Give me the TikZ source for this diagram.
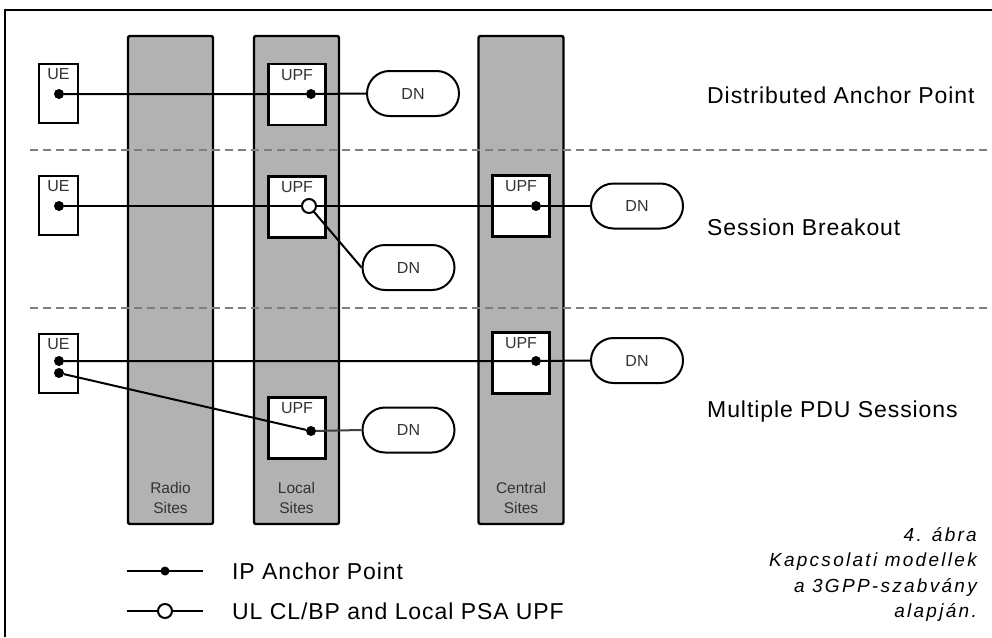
\documentclass[tikz,border=0pt]{standalone}
\usepackage{fontspec}
\setmainfont{Liberation Sans}
\newfontfamily\capfont[LetterSpace=12]{Liberation Sans}
\newfontfamily\lblfont[LetterSpace=4]{Liberation Sans}
\usetikzlibrary{shapes.misc}
\definecolor{sitegray}{HTML}{B2B2B2}
\definecolor{smalltext}{HTML}{333333}
\definecolor{dashgray}{HTML}{7E7E7E}
\tikzset{
  site/.style={draw=black, line width=2.4pt, fill=sitegray, rounded corners=2pt,
    minimum width=85pt, minimum height=488pt, inner sep=0pt},
  sitelabel/.style={text=smalltext, font=\fontsize{15.5}{20}\selectfont, align=center, inner sep=0pt},
  uebox/.style={draw=black, line width=2pt, fill=white, minimum width=39pt, minimum height=59pt, inner sep=0pt},
  upfbox/.style={draw=black, line width=2.2pt, fill=white, minimum width=57pt, minimum height=61pt, inner sep=0pt},
  boxtag/.style={text=smalltext, font=\fontsize{16}{16}\selectfont, inner sep=0pt, anchor=north},
  dnnode/.style={draw=black, line width=2pt, fill=white, rounded rectangle,
    minimum width=92pt, minimum height=45pt, inner sep=0pt, text=smalltext, font=\fontsize{16}{16}\selectfont},
  anchordot/.style={circle, fill=black, minimum size=10pt, inner sep=0pt},
  opendot/.style={circle, draw=black, line width=2pt, fill=white, minimum size=14pt, inner sep=0pt},
  link/.style={line width=2pt, black},
  divider/.style={line width=2pt, dashgray, dash pattern=on 8pt off 5pt},
  rowlabel/.style={anchor=west, inner sep=0pt, font=\lblfont\fontsize{23}{23}\selectfont},
  legendtext/.style={anchor=west, inner sep=0pt, font=\lblfont\fontsize{23}{23}\selectfont},
  capline/.style={anchor=base east, inner sep=0pt, font=\capfont\itshape\fontsize{19}{19}\selectfont},
}
\begin{document}
\begin{tikzpicture}[x=1pt, y=-1pt]
\useasboundingbox (0,0) rectangle (992,637);
\fill[white] (0,0) rectangle (992,637);

% frame
\draw[line width=1.6pt] (5,637) -- (5,10) -- (992,10);

% site columns
\node[site] (radio) at (170.5,280) {};
\node[site] (local) at (296.5,280) {};
\node[site] (central) at (521,280) {};
\node[sitelabel] (radiolbl) at (170.5,498) {Radio\\Sites};
\node[sitelabel] (locallbl) at (296.5,498) {Local\\Sites};
\node[sitelabel] (centrallbl) at (521,498) {Central\\Sites};

% row dividers
\coordinate (d1a) at (30,150);  \coordinate (d1b) at (992,150);
\coordinate (d2a) at (30,308);  \coordinate (d2b) at (992,308);
\draw[divider] (d1a) -- (d1b);
\draw[divider] (d2a) -- (d2b);

% ---- row 1: distributed anchor point
\node[uebox] (ue1) at (58.5,93.5) {};
\node[boxtag] at ([yshift=-5pt]ue1.north) {UE};
\node[upfbox] (upf1) at (297,94.5) {};
\node[boxtag] at ([yshift=-6pt]upf1.north) {UPF};
\node[dnnode] (dn1) at (413,93.5) {DN};
\node[anchordot] (ue1d) at (59,94) {};
\node[anchordot] (upf1d) at (311,94) {};
\draw[link] (ue1d) -- (upf1d) -- (dn1.west);

% ---- row 2: session breakout
\node[uebox] (ue2) at (58.5,205.5) {};
\node[boxtag] at ([yshift=-5pt]ue2.north) {UE};
\node[upfbox] (upf2) at (297,207) {};
\node[boxtag] at ([yshift=-6pt]upf2.north) {UPF};
\node[upfbox] (upf3) at (521,206) {};
\node[boxtag] at ([yshift=-6pt]upf3.north) {UPF};
\node[dnnode] (dn2) at (637,206) {DN};
\node[dnnode] (dn3) at (408.5,267.5) {DN};
\node[anchordot] (ue2d) at (59,206) {};
\node[anchordot] (upf3d) at (536,206) {};
\coordinate (brk) at (309,206);
\draw[link] (ue2d) -- (brk) -- (upf3d) -- (dn2.west);
\draw[link] (brk) -- (dn3.west);
\node[opendot] (brkc) at (brk) {};

% ---- row 3: multiple PDU sessions
\node[uebox] (ue3) at (58.5,363.5) {};
\node[boxtag] at ([yshift=-5pt]ue3.north) {UE};
\node[upfbox] (upf4) at (521,363) {};
\node[boxtag] at ([yshift=-6pt]upf4.north) {UPF};
\node[upfbox] (upf5) at (297,428) {};
\node[boxtag] at ([yshift=-6pt]upf5.north) {UPF};
\node[dnnode] (dn4) at (637,360.5) {DN};
\node[dnnode] (dn5) at (408.5,430) {DN};
\node[anchordot] (ue3a) at (59,361) {};
\node[anchordot] (ue3b) at (59,373) {};
\node[anchordot] (upf4d) at (536,361) {};
\node[anchordot] (upf5d) at (311,431) {};
\draw[link] (ue3a) -- (upf4d) -- (dn4.west);
\draw[link] (ue3b) -- (upf5d);
\draw[link, black!75] (upf5d) -- (dn5.west);

% row labels
\node[rowlabel] (lab1) at (707,95) {Distributed Anchor Point};
\node[rowlabel] (lab2) at (707,227) {Session Breakout};
\node[rowlabel] (lab3) at (707,412) {Multiple PDU Sessions};

% legend
\coordinate (l1a) at (127,571); \coordinate (l1b) at (203,571);
\coordinate (l2a) at (127,611); \coordinate (l2b) at (203,611);
\draw[link] (l1a) -- (l1b);
\draw[link] (l2a) -- (l2b);
\node[anchordot, minimum size=9pt] (l1d) at (165,571) {};
\node[opendot, minimum size=14pt] (l2d) at (165,611) {};
\node[legendtext] (leg1) at (232,571) {IP Anchor Point};
\node[legendtext] (leg2) at (232,611) {UL CL/BP and Local PSA UPF};

% caption, one node per line
\node[capline] (cap1) at (977,541) {4. ábra};
\node[capline] (cap2) at (977,566.5) {Kapcsolati modellek};
\node[capline] (cap3) at (977,592) {a 3GPP-szabvány};
\node[capline] (cap4) at (977,617.5) {alapján.};
\end{tikzpicture}
\end{document}
